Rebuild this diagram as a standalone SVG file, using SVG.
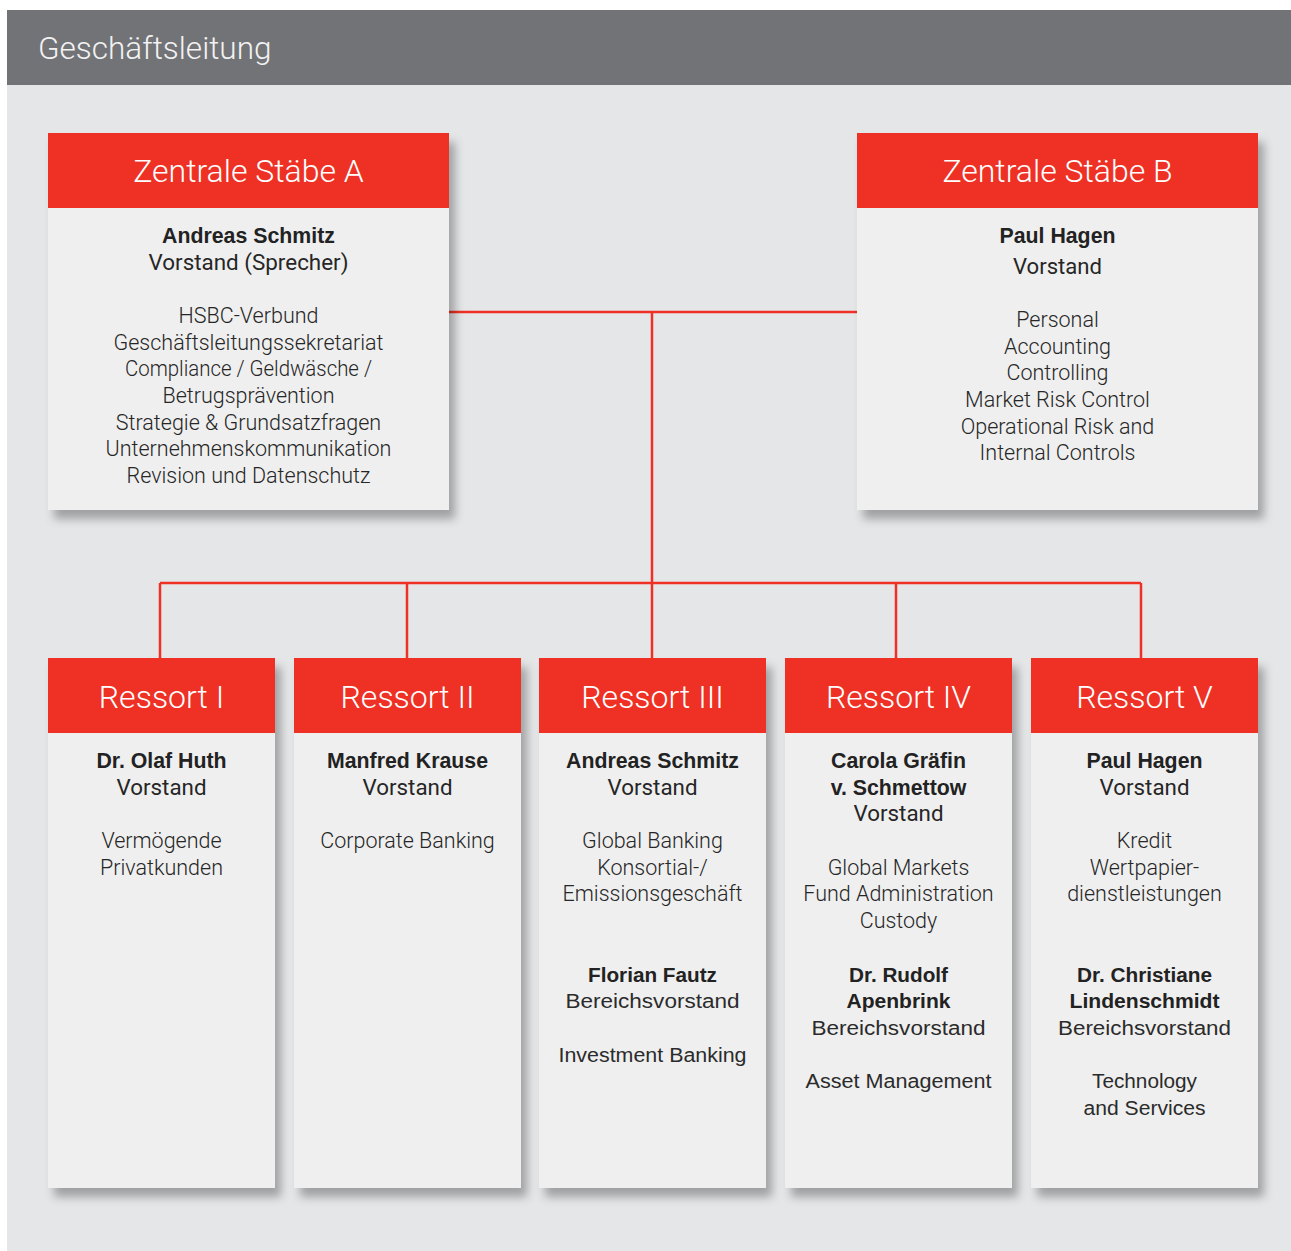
<svg xmlns="http://www.w3.org/2000/svg" width="1291" height="1251" viewBox="0 0 1291 1251">
<style>
.hdr{fill:#ee3124}
.body{fill:#efefef}
.t{font-family:Roboto,"Liberation Sans",sans-serif;text-anchor:middle}
.ttl{font-size:32px;font-weight:300;fill:#ffffff}
.lt{font-size:21.5px;font-weight:300;fill:#262626}
.rg{font-size:21.5px;font-weight:400;fill:#262626}
.bd{font-family:"Liberation Sans",Arial,sans-serif;font-size:21.3px;font-weight:bold;fill:#222222;text-anchor:middle}
.cd{font-family:"Liberation Sans Narrow","Liberation Sans",Arial,sans-serif;font-size:20px;fill:#2b2b2b;text-anchor:middle}
.cdb{font-family:"Liberation Sans Narrow","Liberation Sans",Arial,sans-serif;font-size:20px;font-weight:bold;fill:#222222;text-anchor:middle}
.ln{stroke:#ee3124;stroke-width:2.5;fill:none}
</style>
<defs>
<filter id="sh" x="-10%" y="-10%" width="130%" height="130%">
<feDropShadow dx="6" dy="9" stdDeviation="5" flood-color="#000" flood-opacity="0.3"/>
</filter>
</defs>
<rect x="7" y="85" width="1284" height="1166" fill="#e5e6e8"/>
<rect x="7" y="10" width="1284" height="75" fill="#727377"/>
<text x="38" y="59" font-family="Roboto,'Liberation Sans',sans-serif" font-size="31.5" font-weight="300" fill="#f2f2f2">Geschäftsleitung</text>

<g id="connectors">
<path class="ln" d="M449 312 H857 M652 312 V658 M160 583 H1141 M160 583 V658 M407 583 V658 M896 583 V658 M1141 583 V658"/>
</g>

<g id="zsa">
<rect x="48" y="133" width="401" height="377" class="body" filter="url(#sh)"/>
<rect x="48" y="133" width="401" height="75" class="hdr"/>
<text x="248.5" y="182" class="t ttl">Zentrale Stäbe A</text>
<text x="248.5" y="243" class="bd">Andreas Schmitz</text>
<text x="248.5" y="270" class="t rg" textLength="200" lengthAdjust="spacingAndGlyphs">Vorstand (Sprecher)</text>
<text x="248.5" y="323" class="t lt">HSBC-Verbund</text>
<text x="248.5" y="350" class="t lt">Geschäftsleitungssekretariat</text>
<text x="248.5" y="376" class="t lt" textLength="247" lengthAdjust="spacingAndGlyphs">Compliance / Geldwäsche /</text>
<text x="248.5" y="403" class="t lt">Betrugsprävention</text>
<text x="248.5" y="430" class="t lt">Strategie &amp; Grundsatzfragen</text>
<text x="248.5" y="456" class="t lt">Unternehmenskommunikation</text>
<text x="248.5" y="483" class="t lt">Revision und Datenschutz</text>
</g>

<g id="zsb">
<rect x="857" y="133" width="401" height="377" class="body" filter="url(#sh)"/>
<rect x="857" y="133" width="401" height="75" class="hdr"/>
<text x="1057.5" y="182" class="t ttl">Zentrale Stäbe B</text>
<text x="1057.5" y="243" class="bd">Paul Hagen</text>
<text x="1057.5" y="274" class="t rg" textLength="89" lengthAdjust="spacingAndGlyphs">Vorstand</text>
<text x="1057.5" y="327" class="t lt">Personal</text>
<text x="1057.5" y="354" class="t lt">Accounting</text>
<text x="1057.5" y="380" class="t lt">Controlling</text>
<text x="1057.5" y="407" class="t lt">Market Risk Control</text>
<text x="1057.5" y="434" class="t lt">Operational Risk and</text>
<text x="1057.5" y="460" class="t lt">Internal Controls</text>
</g>

<g id="r1">
<rect x="48" y="658" width="227" height="530" class="body" filter="url(#sh)"/>
<rect x="48" y="658" width="227" height="75" class="hdr"/>
<text x="161.5" y="708" class="t ttl">Ressort I</text>
<text x="161.5" y="768" class="bd">Dr. Olaf Huth</text>
<text x="161.5" y="795" class="t rg" textLength="90" lengthAdjust="spacingAndGlyphs">Vorstand</text>
<text x="161.5" y="848" class="t lt">Vermögende</text>
<text x="161.5" y="875" class="t lt">Privatkunden</text>
</g>

<g id="r2">
<rect x="294" y="658" width="227" height="530" class="body" filter="url(#sh)"/>
<rect x="294" y="658" width="227" height="75" class="hdr"/>
<text x="407.5" y="708" class="t ttl">Ressort II</text>
<text x="407.5" y="768" class="bd">Manfred Krause</text>
<text x="407.5" y="795" class="t rg" textLength="90" lengthAdjust="spacingAndGlyphs">Vorstand</text>
<text x="407.5" y="848" class="t lt">Corporate Banking</text>
</g>

<g id="r3">
<rect x="539" y="658" width="227" height="530" class="body" filter="url(#sh)"/>
<rect x="539" y="658" width="227" height="75" class="hdr"/>
<text x="652.5" y="708" class="t ttl">Ressort III</text>
<text x="652.5" y="768" class="bd">Andreas Schmitz</text>
<text x="652.5" y="795" class="t rg" textLength="90" lengthAdjust="spacingAndGlyphs">Vorstand</text>
<text x="652.5" y="848" class="t lt">Global Banking</text>
<text x="652.5" y="875" class="t lt">Konsortial-/</text>
<text x="652.5" y="901" class="t lt">Emissionsgeschäft</text>
<text x="652.5" y="982" class="cdb" textLength="129" lengthAdjust="spacingAndGlyphs">Florian Fautz</text>
<text x="652.5" y="1008" class="cd" textLength="174" lengthAdjust="spacingAndGlyphs">Bereichsvorstand</text>
<text x="652.5" y="1062" class="cd" textLength="188" lengthAdjust="spacingAndGlyphs">Investment Banking</text>
</g>

<g id="r4">
<rect x="785" y="658" width="227" height="530" class="body" filter="url(#sh)"/>
<rect x="785" y="658" width="227" height="75" class="hdr"/>
<text x="898.5" y="708" class="t ttl">Ressort IV</text>
<text x="898.5" y="768" class="bd">Carola Gräfin</text>
<text x="898.5" y="795" class="bd">v. Schmettow</text>
<text x="898.5" y="821" class="t rg" textLength="90" lengthAdjust="spacingAndGlyphs">Vorstand</text>
<text x="898.5" y="875" class="t lt">Global Markets</text>
<text x="898.5" y="901" class="t lt">Fund Administration</text>
<text x="898.5" y="928" class="t lt">Custody</text>
<text x="898.5" y="982" class="cdb" textLength="99" lengthAdjust="spacingAndGlyphs">Dr. Rudolf</text>
<text x="898.5" y="1008" class="cdb" textLength="104" lengthAdjust="spacingAndGlyphs">Apenbrink</text>
<text x="898.5" y="1035" class="cd" textLength="174" lengthAdjust="spacingAndGlyphs">Bereichsvorstand</text>
<text x="898.5" y="1088" class="cd" textLength="186" lengthAdjust="spacingAndGlyphs">Asset Management</text>
</g>

<g id="r5">
<rect x="1031" y="658" width="227" height="530" class="body" filter="url(#sh)"/>
<rect x="1031" y="658" width="227" height="75" class="hdr"/>
<text x="1144.5" y="708" class="t ttl">Ressort V</text>
<text x="1144.5" y="768" class="bd">Paul Hagen</text>
<text x="1144.5" y="795" class="t rg" textLength="90" lengthAdjust="spacingAndGlyphs">Vorstand</text>
<text x="1144.5" y="848" class="t lt">Kredit</text>
<text x="1144.5" y="875" class="t lt">Wertpapier-</text>
<text x="1144.5" y="901" class="t lt">dienstleistungen</text>
<text x="1144.5" y="982" class="cdb" textLength="135" lengthAdjust="spacingAndGlyphs">Dr. Christiane</text>
<text x="1144.5" y="1008" class="cdb" textLength="150" lengthAdjust="spacingAndGlyphs">Lindenschmidt</text>
<text x="1144.5" y="1035" class="cd" textLength="173" lengthAdjust="spacingAndGlyphs">Bereichsvorstand</text>
<text x="1144.5" y="1088" class="cd" textLength="105" lengthAdjust="spacingAndGlyphs">Technology</text>
<text x="1144.5" y="1115" class="cd" textLength="122" lengthAdjust="spacingAndGlyphs">and Services</text>
</g>
</svg>
